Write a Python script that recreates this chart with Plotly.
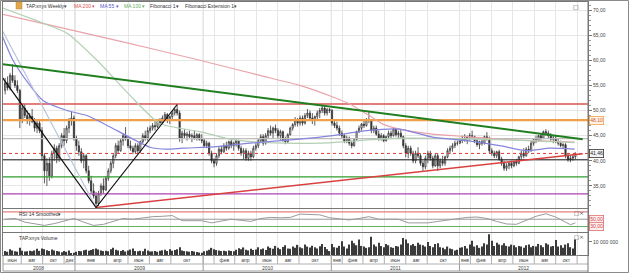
import pandas as pd
import plotly.graph_objects as go

# ---------------- data ----------------
start_week = "2008-06-16"

opens = [
54.0,55.5,54.5,57.0,56.0,55.0,54.0,48.0,50.5,49.0,
48.0,48.8,47.8,46.5,47.5,46.0,41.0,38.0,39.5,37.0,
41.5,42.5,40.5,43.0,45.0,44.0,46.5,48.0,48.5,44.5,
43.0,41.8,40.0,41.0,38.0,36.0,34.0,33.0,31.5,33.5,
35.0,34.2,36.5,38.0,39.5,41.0,43.0,42.0,44.0,45.0,
44.5,43.0,42.5,41.8,43.0,42.0,43.8,45.0,44.5,46.0,
46.5,47.0,46.8,47.8,47.5,48.5,49.2,48.0,48.8,49.5,
50.2,49.5,44.5,45.5,45.0,45.3,44.8,45.0,44.5,45.2,
44.3,44.0,43.0,43.5,41.5,40.0,39.5,41.0,42.3,41.8,
43.0,42.5,43.8,43.0,43.5,44.0,42.5,41.5,42.0,40.5,
41.5,40.8,42.5,43.0,44.0,44.8,43.5,45.0,46.0,45.5,
46.5,46.0,45.0,45.8,44.2,43.8,45.2,46.5,47.2,48.2,
47.5,48.5,47.5,49.0,49.5,48.5,48.0,48.8,49.5,50.0,
50.5,49.5,50.2,50.0,47.5,47.0,46.5,45.5,45.0,44.0,
44.5,43.5,43.0,44.2,45.8,46.5,47.3,47.0,48.2,48.0,
46.0,46.5,45.3,44.5,45.0,44.0,44.8,45.5,45.0,46.3,
45.2,45.5,44.8,43.0,41.5,42.5,41.5,40.0,41.5,41.0,
39.5,38.8,40.5,41.5,40.5,39.0,41.0,39.0,40.0,39.5,
40.8,42.0,42.5,43.0,43.5,43.5,44.0,44.5,44.0,44.8,
45.0,44.8,44.0,43.2,43.8,43.5,44.8,44.5,42.0,41.5,
41.0,41.8,40.3,39.5,38.5,39.0,39.5,39.0,39.8,39.5,
40.8,41.5,41.0,42.3,42.0,43.5,44.2,44.0,45.0,44.5,
45.8,45.5,45.0,44.3,44.5,43.8,43.5,43.0,43.2,41.0,
40.2,40.5,40.8]

highs = [
56.5,56.8,57.5,59.2,57.0,56.0,54.3,51.0,51.3,50.0,
49.5,50.3,48.5,48.2,48.0,46.7,41.5,40.5,40.7,42.0,
43.3,43.0,43.5,45.5,46.5,47.0,48.5,49.7,49.0,45.0,
44.0,42.5,41.5,41.3,39.0,37.0,35.5,33.8,34.0,35.5,
36.5,37.0,38.5,40.0,41.3,43.5,44.0,44.5,45.5,46.7,
45.0,44.0,43.0,43.5,43.5,44.0,45.5,46.0,46.7,47.0,
47.5,48.0,48.3,48.5,49.0,49.7,49.5,49.0,50.0,50.5,
51.2,50.0,46.0,46.3,45.8,46.0,45.5,46.0,45.5,45.5,
45.3,44.5,44.0,43.8,42.0,40.5,41.5,42.7,43.0,43.5,
43.8,44.0,44.3,43.8,44.3,44.2,43.0,42.5,42.5,42.0,
42.0,43.0,43.5,44.5,45.3,45.3,45.5,46.5,47.0,46.8,
47.2,46.5,46.2,46.0,44.8,45.5,46.8,47.5,48.7,48.5,
49.0,49.0,49.5,50.3,50.0,49.5,49.0,50.0,50.5,51.0,
50.8,50.5,50.5,50.3,48.0,47.8,47.0,46.0,45.3,45.0,
44.8,44.0,44.5,46.0,47.0,47.5,48.0,48.5,49.7,48.3,
47.0,47.0,46.0,45.5,45.3,45.0,46.0,46.0,46.7,46.5,
46.0,46.3,45.0,43.5,43.0,43.0,42.0,42.0,42.7,41.5,
40.0,41.0,42.0,42.0,41.0,41.5,41.5,40.5,41.0,41.0,
42.5,43.0,43.5,44.0,44.0,44.5,45.0,45.3,45.0,45.5,
46.0,45.0,44.5,44.0,44.5,45.0,45.7,44.8,42.5,42.0,
42.0,42.2,40.8,40.0,39.5,39.8,40.0,40.0,40.3,41.0,
42.0,42.5,42.7,43.0,44.0,44.5,45.0,45.2,45.5,46.0,
46.3,46.0,45.5,45.0,45.0,44.5,44.0,43.5,43.5,41.5,
41.0,41.2,41.7]

lows = [
53.2,54.0,54.0,55.5,54.5,53.5,46.5,47.5,48.5,47.3,
47.0,47.5,45.8,45.5,45.5,40.0,35.5,35.0,36.0,36.5,
40.0,39.5,39.8,42.5,43.0,43.5,45.5,47.0,44.0,42.0,
41.0,39.5,38.5,37.5,35.5,33.5,32.5,30.7,31.0,33.0,
33.5,34.0,36.0,37.5,38.5,40.5,41.5,41.8,43.0,44.0,
42.5,42.0,41.3,41.5,41.5,41.5,43.5,44.0,44.0,45.5,
46.0,46.0,46.5,47.0,47.2,48.0,47.5,47.3,48.3,49.0,
49.0,43.8,43.5,44.5,44.0,44.5,43.7,44.2,44.0,44.0,
43.5,42.7,42.5,41.0,39.5,38.7,39.0,40.5,41.3,41.5,
42.0,42.2,42.5,42.0,42.8,42.0,41.0,40.3,40.0,40.0,
40.0,40.5,42.0,42.5,43.5,43.0,43.2,44.5,45.0,44.5,
45.5,44.5,44.0,43.8,43.3,43.5,45.0,46.0,46.8,46.8,
47.0,47.0,47.2,48.5,48.0,47.3,47.0,48.0,48.5,49.5,
49.0,49.0,49.5,47.0,46.5,46.0,45.0,44.5,43.5,43.5,
43.0,42.5,42.8,44.0,45.5,46.0,46.5,46.8,47.5,45.5,
45.5,45.0,44.0,44.0,43.7,43.8,44.3,44.5,44.8,44.8,
44.5,44.5,42.5,40.7,40.5,41.0,39.5,39.5,40.5,39.0,
38.0,38.3,39.5,40.0,38.5,38.8,38.0,38.5,39.0,39.0,
40.5,41.3,41.8,42.5,43.0,43.3,43.5,43.8,43.3,44.0,
44.5,43.5,42.8,42.3,43.0,43.2,44.0,41.5,41.0,40.5,
40.5,40.0,39.0,38.0,38.0,38.3,38.5,38.7,39.0,39.3,
40.3,40.5,40.8,41.5,41.8,43.0,43.5,43.8,44.0,44.3,
45.0,44.5,44.0,43.5,43.5,43.0,42.7,42.5,40.5,39.8,
39.7,40.0,40.3]

closes = [
55.5,54.5,57.0,56.0,55.0,54.0,48.0,50.5,49.0,48.0,
48.8,47.8,46.5,47.5,46.0,41.0,38.0,39.5,37.0,41.5,
42.5,40.5,43.0,45.0,44.0,46.5,48.0,48.5,44.5,43.0,
41.8,40.0,41.0,38.0,36.0,34.0,33.0,31.5,33.5,35.0,
34.2,36.5,38.0,39.5,41.0,43.0,42.0,44.0,45.0,44.5,
43.0,42.5,41.8,43.0,42.0,43.8,45.0,44.5,46.0,46.5,
47.0,46.8,47.8,47.5,48.5,49.2,48.0,48.8,49.5,50.2,
49.5,44.5,45.5,45.0,45.3,44.8,45.0,44.5,45.2,44.3,
44.0,43.0,43.5,41.5,40.0,39.5,41.0,42.3,41.8,43.0,
42.5,43.8,43.0,43.5,44.0,42.5,41.5,42.0,40.5,41.5,
40.8,42.5,43.0,44.0,44.8,43.5,45.0,46.0,45.5,46.5,
46.0,45.0,45.8,44.2,43.8,45.2,46.5,47.2,48.2,47.5,
48.5,47.5,49.0,49.5,48.5,48.0,48.8,49.5,50.0,50.5,
49.5,50.2,50.0,47.5,47.0,46.5,45.5,45.0,44.0,44.5,
43.5,43.0,44.2,45.8,46.5,47.3,47.0,48.2,48.0,46.0,
46.5,45.3,44.5,45.0,44.0,44.8,45.5,45.0,46.3,45.2,
45.5,44.8,43.0,41.5,42.5,41.5,40.0,41.5,41.0,39.5,
38.8,40.5,41.5,40.5,39.0,41.0,39.0,40.0,39.5,40.8,
42.0,42.5,43.0,43.5,43.5,44.0,44.5,44.0,44.8,45.0,
44.8,44.0,43.2,43.8,43.5,44.8,44.5,42.0,41.5,41.0,
41.8,40.3,39.5,38.5,39.0,39.5,39.0,39.8,39.5,40.8,
41.5,41.0,42.3,42.0,43.5,44.2,44.0,45.0,44.5,45.8,
45.5,45.0,44.3,44.5,43.8,43.5,43.0,43.2,41.0,40.2,
40.5,40.8,41.46]

volumes_mln = [
3.0,2.5,4.5,3.5,2.8,2.6,5.5,3.2,2.7,2.9,
3.3,2.8,3.5,4.8,3.2,5.0,4.5,3.6,3.0,4.2,
3.4,3.1,2.6,2.2,3.0,2.5,3.4,1.5,1.8,
2.5,3.0,2.8,3.6,4.0,3.2,3.8,4.5,5.0,4.2,3.5,
3.0,3.2,2.8,4.5,5.5,4.0,3.5,3.0,3.8,2.7,
3.5,4.2,5.0,3.0,2.8,3.3,2.9,4.8,3.5,2.6,
2.8,3.0,2.5,3.2,3.6,4.0,3.0,4.5,3.2,3.8,
4.5,6.0,3.5,3.0,2.8,2.5,3.0,2.7,2.4,2.0,1.8,
2.8,3.2,4.0,5.5,4.5,3.8,3.5,3.0,3.3,2.9,
3.5,3.1,2.8,4.0,5.2,4.5,5.8,4.0,3.5,4.8,
3.8,4.2,6.0,4.5,5.0,3.8,6.5,5.5,4.8,7.0,
5.5,4.5,6.2,7.5,5.0,4.8,6.5,5.5,7.8,6.0,
5.2,8.0,6.5,5.8,7.2,6.0,5.0,6.8,8.5,6.2,4.5,3.0,
8.5,6.0,5.5,7.0,10.5,6.5,5.0,8.0,11.0,9.0,
7.5,12.0,7.0,6.5,5.5,6.0,14.0,8.0,6.5,9.5,
7.0,6.0,8.5,7.5,6.0,5.5,7.0,6.5,8.0,13.0,
12.0,9.0,7.5,8.5,7.0,9.5,8.0,7.5,6.5,10.0,
7.0,6.0,8.5,9.0,6.0,5.5,4.5,6.5,5.0,4.5,3.5,4.0,
5.5,6.0,7.0,5.0,8.0,11.0,6.5,7.5,5.5,6.5,
9.0,8.0,16.0,11.0,7.0,9.5,8.0,7.5,9.0,7.0,
6.5,8.0,7.5,6.0,7.0,6.5,5.5,7.5,8.0,6.0,
7.0,6.5,8.5,7.5,6.0,9.0,8.0,6.5,7.0,11.5,
6.5,7.5,5.5,8.0,9.0,6.0,5.0,12.0]

# moving averages (week index, value)
ma200_weeks = [-2.1,18.3,38.6,58.9,79.2,103.6,119.9,133.3,140.2,147.1,153.7,160.5,173.9,187.8,201.2,214.6,231.7]
ma200_vals  = [69.3,67.0,64.7,62.4,60.0,57.0,55.0,52.7,51.3,49.3,47.3,46.3,45.3,44.8,44.3,44.0,43.7]
ma100_weeks = [-2.1,15.4,25.2,37.4,50.8,62.9,79.2,92.6,106.5,128.0,160.5,201.2,231.7]
ma100_vals  = [70.6,67.4,65.4,60.0,53.0,47.4,45.8,44.2,43.6,43.5,44.5,44.2,43.6]
ma55_weeks  = [-2.1,3.2,10.1,15.4,25.2,33.3,45.5,58.9,65.8,72.3,86.1,99.5,119.9,133.3,147.1,160.5,173.9,187.8,201.2,212.2,221.5,231.7]
ma55_vals   = [66.0,60.0,55.0,52.0,50.0,49.0,46.0,42.7,42.3,42.5,42.8,43.5,44.3,45.0,46.0,46.3,44.7,44.0,43.0,42.0,42.5,42.3]

rsi_weeks  = [0,4,8,12,16,20,24,28,32,36,40,44,48,52,56,60,64,68,72,76,80,84,88,92,96,100,104,108,112,116,
              120,124,128,132,136,140,144,148,152,156,160,164,168,172,176,180,184,188,192,196,200,204,208,212,216,220,224,228,230,232]
rsi_values = [50,52,42,38,33,38,45,52,42,33,36,45,52,50,54,57,58,60,46,47,46,40,46,50,47,44,52,55,54,55,
              64,64,62,54,52,48,52,57,50,49,50,40,39,40,44,48,52,55,56,52,44,37,36,48,58,65,56,42,35,40]
rsi_levels = [70, 50, 30]

# drawn lines (week index, value)
green_trend_weeks = [-2.07, 235]
green_trend_vals = [59.3, 44.3]
red_trend_weeks = [37, 235]
red_trend_vals = [30.7, 41.4]
zigzag_weeks = [-1, 37, 70]
zigzag_vals = [56.5, 30.7, 51.2]
steep_weeks = [-2.07, 37]
steep_vals = [66.8, 30.7]

fib_levels = [51.3, 48.1, 44.4, 40.2, 36.8, 33.4]
fib_colors = ["#d9534f", "#f0a048", "#bdbdbd", "#222222", "#2e9e2e", "#b040b0"]
fib_widths = [1.4, 2.2, 1.2, 1.2, 1.4, 1.2]
last_price = 41.46
fib_label = 48.10

price_ticks = [35, 40, 45, 50, 55, 60, 65, 70]

month_cells = [
 ("2008-06-10","2008-08-01","июн"),("2008-08-01","2008-10-01","авг"),("2008-10-01","2008-12-01","окт"),("2008-12-01","2009-01-01","дек"),
 ("2009-01-01","2009-04-01","янв"),("2009-04-01","2009-06-01","апр"),("2009-06-01","2009-08-01","июн"),("2009-08-01","2009-10-01","авг"),("2009-10-01","2010-01-01","окт"),
 ("2010-01-01","2010-02-01",""),("2010-02-01","2010-04-01","фев"),("2010-04-01","2010-06-01","апр"),("2010-06-01","2010-08-01","июн"),("2010-08-01","2010-10-01","авг"),("2010-10-01","2011-01-01","окт"),
 ("2011-01-01","2011-02-01","янв"),("2011-02-01","2011-04-01","фев"),("2011-04-01","2011-06-01","апр"),("2011-06-01","2011-08-01","июн"),("2011-08-01","2011-10-01","авг"),("2011-10-01","2012-01-01","окт"),
 ("2012-01-01","2012-02-01","янв"),("2012-02-01","2012-04-01","фев"),("2012-04-01","2012-06-01","апр"),("2012-06-01","2012-08-01","июн"),("2012-08-01","2012-10-01","авг"),("2012-10-01","2012-12-01","окт"),
 ("2012-12-01","2013-01-01",""),
]
year_cells = [("2008-06-10","2009-01-01","2008"),("2009-01-01","2010-01-01","2009"),("2010-01-01","2011-01-01","2010"),
              ("2011-01-01","2012-01-01","2011"),("2012-01-01","2013-01-01","2012")]
X0, X1 = "2008-06-10", "2013-01-01"

# ---------------- helpers ----------------
START = pd.Timestamp(start_week)
def wk(i):
    return START + pd.Timedelta(days=7 * i)

def mid(a, b):
    a, b = pd.Timestamp(a), pd.Timestamp(b)
    return a + (b - a) / 2

dates = [wk(i) for i in range(len(closes))]
boundaries = [c[0] for c in month_cells[1:]]
year_bounds = [c[0] for c in year_cells[1:]]

H, PT, PB = 273, 2, 18
PH = H - PT - PB
def py(p):  # pixel y -> paper y
    return (H - PB - p) / PH
PW = 585
def px(p):  # pixel x -> paper x
    return (p - 3) / PW

FONT = "Liberation Sans"
GRID = "#e6e6e6"

fig = go.Figure()

# horizontal fibonacci levels
for lv, col, w in zip(fib_levels, fib_colors, fib_widths):
    fig.add_trace(go.Scatter(x=[X0, X1], y=[lv, lv], mode="lines", line=dict(color=col, width=w),
                             xaxis="x", yaxis="y", hoverinfo="skip", showlegend=False))
fig.add_trace(go.Scatter(x=[X0, X1], y=[last_price, last_price], mode="lines",
                         line=dict(color="#e53935", width=1, dash="dot"), xaxis="x", yaxis="y",
                         hoverinfo="skip", showlegend=False))

# moving averages
for wks, vals, col in [(ma200_weeks, ma200_vals, "#eaa3ab"), (ma100_weeks, ma100_vals, "#b3cfb3"),
                       (ma55_weeks, ma55_vals, "#8585dd")]:
    fig.add_trace(go.Scatter(x=[wk(i) for i in wks], y=vals, mode="lines",
                             line=dict(color=col, width=1.2, shape="spline", smoothing=0.6),
                             xaxis="x", yaxis="y", hoverinfo="skip", showlegend=False))

# drawn trend lines
for wks, vals, col, w in [(steep_weeks, steep_vals, "#b8c2d8", 1.2),
                          (green_trend_weeks, green_trend_vals, "#1f7f1f", 2.0),
                          (red_trend_weeks, red_trend_vals, "#d94040", 1.5),
                          (zigzag_weeks, zigzag_vals, "#111111", 1.2)]:
    fig.add_trace(go.Scatter(x=[wk(i) for i in wks], y=vals, mode="lines", line=dict(color=col, width=w),
                             xaxis="x", yaxis="y", hoverinfo="skip", showlegend=False))

# candles
fig.add_trace(go.Candlestick(x=dates, open=opens, high=highs, low=lows, close=closes,
                             increasing=dict(line=dict(color="#333333", width=0.8), fillcolor="#ffffff"),
                             decreasing=dict(line=dict(color="#333333", width=0.8), fillcolor="#333333"),
                             whiskerwidth=0, xaxis="x", yaxis="y", hoverinfo="skip", showlegend=False))

# RSI
for lv, col in zip(rsi_levels, ["#e06060", "#999999", "#60b060"]):
    fig.add_trace(go.Scatter(x=[X0, X1], y=[lv, lv], mode="lines", line=dict(color=col, width=1),
                             xaxis="x2", yaxis="y2", hoverinfo="skip", showlegend=False))
fig.add_trace(go.Scatter(x=[wk(i) for i in rsi_weeks], y=rsi_values, mode="lines",
                         line=dict(color="#9a9a9a", width=1), xaxis="x2", yaxis="y2",
                         hoverinfo="skip", showlegend=False))

# volume
fig.add_trace(go.Bar(x=dates, y=[v * 1e6 for v in volumes_mln], marker=dict(color="#3a3a3a", line=dict(width=0)),
                     xaxis="x3", yaxis="y3", hoverinfo="skip", showlegend=False))

xcommon = dict(type="date", range=[X0, X1], showgrid=True, gridcolor=GRID, gridwidth=1,
               tickmode="array", tickvals=boundaries, ticks="", showticklabels=False,
               showline=True, linecolor="#777777", linewidth=1, mirror=True, zeroline=False, fixedrange=True)

month_centers = [mid(a, b) for a, b, _ in month_cells]
month_labels = [t for _, _, t in month_cells]

fig.update_layout(
    width=629, height=273, margin=dict(l=3, r=41, t=PT, b=PB),
    paper_bgcolor="white", plot_bgcolor="white", separators=", ",
    font=dict(family=FONT, size=5, color="#444444"),
    showlegend=False, bargap=0.5,
    xaxis=dict(xcommon, anchor="y", rangeslider=dict(visible=False)),
    xaxis2=dict(xcommon, anchor="y2"),
    xaxis3=dict(xcommon, anchor="y3", tickvals=month_centers, ticktext=month_labels, showticklabels=True,
                showgrid=False, tickfont=dict(size=5, color="#444444"),
                minor=dict(tickmode="array", tickvals=boundaries, showgrid=True, gridcolor=GRID, ticks="")),
    yaxis=dict(domain=[py(208), 1], range=[30.6, 71.6], side="right", tickmode="array", tickvals=price_ticks,
               tickformat=".2f", ticks="outside", ticklen=3, tickcolor="#777777", showgrid=True, gridcolor=GRID,
               showline=True, linecolor="#777777", mirror=True, zeroline=False, anchor="x",
               minor=dict(dtick=1, ticks="outside", ticklen=2, tickcolor="#999999", showgrid=False),
               tickfont=dict(size=5, color="#444444")),
    yaxis2=dict(domain=[py(232), py(209)], range=[15, 78], side="right", showticklabels=False, ticks="",
                showgrid=False, showline=True, linecolor="#777777", mirror=True, zeroline=False, anchor="x2"),
    yaxis3=dict(domain=[0, py(233)], range=[0, 16.9e6], side="right", tickmode="array", tickvals=[1e7],
                ticktext=["10 000 000"], ticks="outside", ticklen=3, tickcolor="#777777", showgrid=False,
                showline=True, linecolor="#777777", mirror=True, zeroline=False, anchor="x3",
                tickfont=dict(size=5, color="#444444")),
)

shapes = []
for yb in year_bounds:
    shapes.append(dict(type="line", xref="x", yref="paper", x0=yb, x1=yb, y0=0, y1=1,
                       line=dict(color="#cfcfcf", width=1), layer="below"))
    shapes.append(dict(type="line", xref="x", yref="paper", x0=yb, x1=yb, y0=py(271), y1=0,
                       line=dict(color="#9a9a9a", width=1)))
for b in boundaries:
    shapes.append(dict(type="line", xref="x", yref="paper", x0=b, x1=b, y0=py(264), y1=0,
                       line=dict(color="#b0b0b0", width=1)))
shapes.append(dict(type="line", xref="paper", yref="paper", x0=0, x1=1, y0=py(264), y1=py(264),
                   line=dict(color="#b0b0b0", width=1)))
shapes.append(dict(type="line", xref="paper", yref="paper", x0=0, x1=1, y0=py(271), y1=py(271),
                   line=dict(color="#9a9a9a", width=1)))
shapes.append(dict(type="line", xref="paper", yref="paper", x0=0, x1=0, y0=py(271), y1=0,
                   line=dict(color="#9a9a9a", width=1)))
shapes.append(dict(type="line", xref="paper", yref="paper", x0=1, x1=1, y0=py(272), y1=1,
                   line=dict(color="#777777", width=1)))
shapes.append(dict(type="rect", xref="paper", yref="paper", x0=px(0.5), x1=px(628.5), y0=py(272.5), y1=py(0.5),
                   line=dict(color="#8a8a8a", width=1)))
# legend icon
shapes.append(dict(type="rect", xref="paper", yref="paper", x0=px(16), x1=px(22), y0=py(9), y1=py(2),
                   fillcolor="#e0a84a", line=dict(color="#c08830", width=0.5)))
fig.update_layout(shapes=shapes)

ann = []
def txt(x, y, s, color="#333333", size=5, anchor="left", family=FONT):
    ann.append(dict(xref="paper", yref="paper", x=x, y=y, text=s, showarrow=False, xanchor=anchor,
                    yanchor="middle", font=dict(family=family, size=size, color=color)))

legend_items = [(24, "TAP.xnys Weekly▾", "#333333"), (72, "MA 200 ▾", "#e05050"), (98, "MA 55 ▾", "#5555cc"),
                (122, "MA 100 ▾", "#66aa66"), (148, "Fibonacci 1▾", "#333333"), (183, "Fibonacci Extension 1▾", "#333333")]
for xpix, s, c in legend_items:
    txt(px(xpix), py(6), s, c)
txt(px(17), py(213.5), "RSI 14 Smoothed▾")
txt(px(17), py(237.5), "TAP.xnys Volume")
txt(px(576), py(6), "□", "#444444", 6, "center", "DejaVu Sans")
txt(px(579), py(212.5), "□×", "#444444", 5.5, "center", "DejaVu Sans")
txt(px(579), py(236.5), "□×", "#444444", 5.5, "center", "DejaVu Sans")

for a, b, t in year_cells:
    ann.append(dict(xref="x3", yref="paper", x=mid(a, b), y=py(267.7), text=t, showarrow=False,
                    xanchor="center", yanchor="middle", font=dict(size=5, color="#444444")))

def axis_box(yref, yv, s, border, color, bg):
    ann.append(dict(xref="paper", yref=yref, x=1, y=yv, text=s, showarrow=False, xanchor="left", xshift=1,
                    yanchor="middle", bordercolor=border, borderwidth=0.8, borderpad=0.5, bgcolor=bg,
                    font=dict(size=5, color=color)))
axis_box("y", fib_label, "48,10", "#f0a048", "#d05020", "#fff4e6")
axis_box("y", last_price, "41,46", "#333333", "#222222", "#f4f4f4")
axis_box("y2", 50, "50,00", "#e07070", "#d04040", "#fff0f0")
axis_box("y2", 30, "30,00", "#e07070", "#d04040", "#fff0f0")
fig.update_layout(annotations=ann)

fig.write_html("out.html")
